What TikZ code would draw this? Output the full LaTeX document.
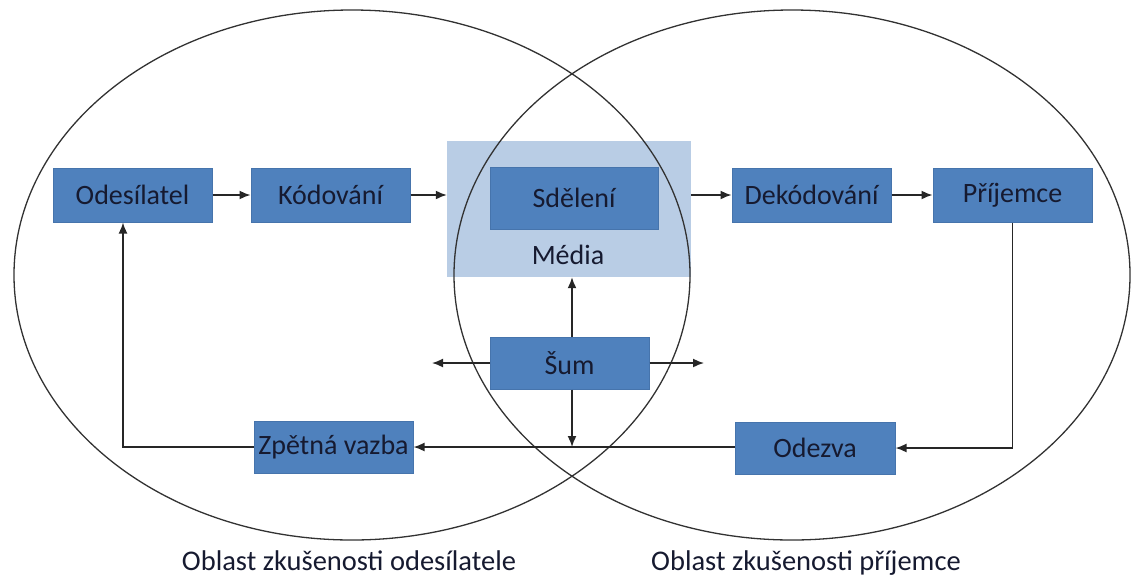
\documentclass[tikz,border=0pt]{standalone}
\usepackage{fontspec}
\setmainfont{Carlito}
\usetikzlibrary{arrows.meta}
\definecolor{boxblue}{RGB}{79,129,189}
\definecolor{boxedge}{RGB}{70,116,172}
\definecolor{medialight}{RGB}{185,205,229}
\definecolor{txt}{RGB}{22,26,48}
\definecolor{ring}{RGB}{50,50,50}
\tikzset{
  bluebox/.style={fill=boxblue,draw=boxedge,line width=1pt,inner sep=0pt,
    minimum width=159pt,minimum height=54pt,text=txt,
    font=\fontsize{28}{32}\selectfont},
  arr/.style={line width=1.6pt,draw=black!85,-{Latex[length=11pt,width=9pt]}},
  lbl/.style={text=txt,font=\fontsize{28}{32}\selectfont,inner sep=0pt},
  botlbl/.style={text=txt,font=\fontsize{28.5}{32}\selectfont,inner sep=0pt,anchor=base}
}
\begin{document}
\begin{tikzpicture}[x=1pt,y=-1pt]
\useasboundingbox (0,0) rectangle (1131,579);
% media background
\node[fill=medialight,inner sep=0pt,minimum width=244pt,minimum height=136pt] (media) at (569,209) {};
% ellipses
\draw[ring,line width=1.3pt] (352,275) ellipse [x radius=338pt,y radius=265pt];
\draw[ring,line width=1.3pt] (792,275) ellipse [x radius=338pt,y radius=265pt];
% boxes
\node[bluebox] (ode) at (132.5,195) {Odesílatel};
\node[bluebox] (kod) at (330.5,195) {Kódování};
\node[bluebox,minimum width=168pt,minimum height=62pt] (sdel) at (574,198) {Sdělení};
\node[lbl] (medt) at (568,255) {Média};
\node[bluebox] (dek) at (811.5,195) {Dekódování};
\node[bluebox] (pri) at (1012.5,195) {Příjemce};
\node[bluebox,minimum height=52pt] (sum) at (569.5,363) {Šum};
\node[bluebox,minimum height=52pt] (zpet) at (333.5,447) {Zpětná vazba};
\node[bluebox,minimum width=160pt,minimum height=52pt] (odez) at (815,448) {Odezva};
% labels
\node[botlbl] (l1) at (349,570) {Oblast zkušenosti odesílatele};
\node[botlbl] (l2) at (806,570) {Oblast zkušenosti příjemce};
% helper coordinates
\coordinate (fb) at (123,447);
\coordinate (j) at (572,447);
\coordinate (nl) at (432,363);
\coordinate (nr) at (704,363);
% forward chain
\draw[arr] (ode.east) -- (kod.west);
\draw[arr] (kod.east) -- (kod.east -| media.west);
\draw[arr] (dek.west -| media.east) -- (dek.west);
\draw[arr] (dek.east) -- (pri.west);
% feedback loop
\draw[arr] (pri.south) |- (odez.east);
\draw[arr] (odez.west |- zpet.east) -- (zpet.east);
\draw[arr] (zpet.west) -| (ode.south -| fb);
% noise
\draw[arr] (sum.north -| j) -- (media.south -| j);
\draw[arr] (sum.south -| j) -- (j);
\draw[arr] (sum.west) -- (nl);
\draw[arr] (sum.east) -- (nr);
\end{tikzpicture}
\end{document}
